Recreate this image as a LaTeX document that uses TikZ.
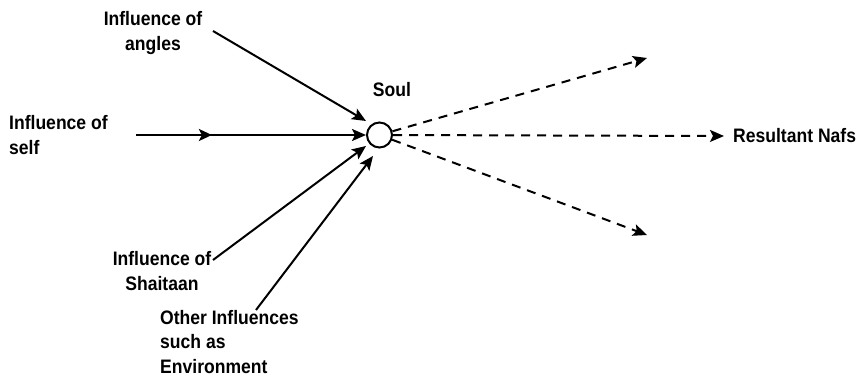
\documentclass[tikz,border=0pt]{standalone}
\usepackage{fontspec}
\setmainfont{Liberation Sans}[FakeStretch=0.9]
\usetikzlibrary{arrows.meta,decorations.markings}
\tikzset{
  lbl/.style={inner sep=0pt, font=\fontsize{19.5}{24.5}\selectfont\bfseries},
  conn/.style={line width=2pt, -{Stealth[length=14pt,width=12pt,inset=3pt]}},
  outconn/.style={conn, dash pattern=on 9pt off 7pt},
  midarrow/.style={postaction={decorate}, decoration={markings,
    mark=at position #1 with {\arrow{Stealth[length=13pt,width=12pt,inset=3pt]}}}}
}
\begin{document}
\begin{tikzpicture}[x=1pt,y=-1pt]
\useasboundingbox (0,0) rectangle (857,377);
\node[circle, draw, line width=2pt, minimum size=25pt, inner sep=0pt] (soul) at (379.5,135) {};
\node[lbl] (soullbl) at (392,90) {Soul};
\node[lbl, align=center] (angles) at (153,33) {Influence of\\angles};
\node[lbl, align=left, anchor=west] (self) at (9,135) {Influence of\\self};
\node[lbl, align=center] (shaitaan) at (162,271) {Influence of\\Shaitaan};
\node[lbl, align=left, anchor=west] (other) at (160,342) {Other Influences\\such as\\Environment};
\node[lbl, anchor=west] (nafs) at (733,136) {Resultant Nafs};
% connector ends
\coordinate (sA) at (213,31);
\coordinate (tA) at (366,121);
\coordinate (sS) at (136,135);
\coordinate (tS) at (366,135);
\coordinate (sH) at (213,260);
\coordinate (tH) at (366,146);
\coordinate (sO) at (256,310);
\coordinate (tO) at (373,156);
\coordinate (oU) at (647,58);
\coordinate (oM) at (724,136);
\coordinate (oL) at (647,235);
\draw[conn] (sA) -- (tA);
\draw[conn, midarrow=0.33] (sS) -- (tS);
\draw[conn] (sH) -- (tH);
\draw[conn] (sO) -- (tO);
\draw[outconn] (soul) -- (oU);
\draw[outconn] (soul) -- (oM);
\draw[outconn] (soul) -- (oL);
\end{tikzpicture}
\end{document}
